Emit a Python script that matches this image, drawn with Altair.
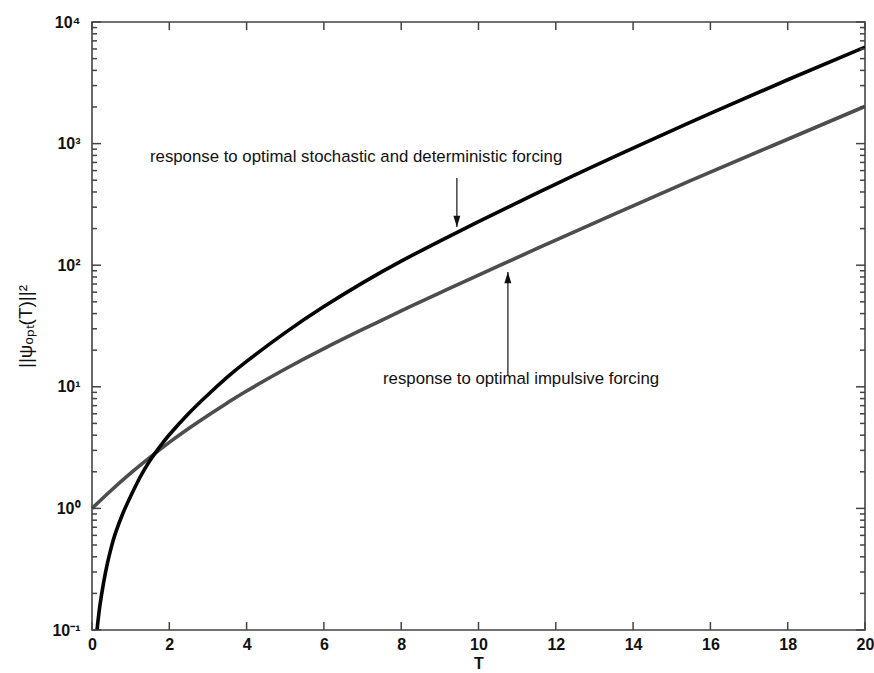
import altair as alt
import pandas as pd

# Optimal stochastic + deterministic forcing response
t_opt = [0.13, 0.2, 0.3, 0.4, 0.5, 0.6, 0.8, 1.0, 1.25, 1.5, 1.75, 2.0, 2.5, 3.0,
         3.5, 4.0, 5.0, 6.0, 7.0, 8.0, 9.0, 10.0, 12.0, 14.0, 16.0, 18.0, 20.0]
e_opt = [0.100, 0.155, 0.245, 0.355, 0.479, 0.617, 0.912, 1.26, 1.82, 2.48, 3.20, 4.03,
         6.03, 8.61, 12.0, 16.2, 27.9, 45.7, 71.6, 108, 158, 228, 465, 918, 1774, 3350, 6209]

# Optimal impulsive forcing response
t_imp = [0, 0.5, 1, 1.5, 2, 2.5, 3, 3.5, 4, 5, 6, 7, 8, 9, 10, 12, 14, 16, 18, 20]
e_imp = [1.00, 1.41, 1.95, 2.63, 3.49, 4.54, 5.82, 7.37, 9.23, 14.0, 20.6, 29.6, 42.1,
         59.2, 82.8, 161, 308, 583, 1086, 2023]

# Annotations: label anchor (T, value) and arrow (T, start, tip)
labels = ["response to optimal stochastic and deterministic forcing",
          "response to optimal impulsive forcing"]
label_t = [1.5, 7.53]
label_e = [776, 11.6]
arrow_t = [9.44, 10.76]
arrow_from = [521, 12.5]
arrow_to = [206, 88]

x_ticks = [0, 2, 4, 6, 8, 10, 12, 14, 16, 18, 20]
y_major = [0.1, 1, 10, 100, 1000, 10000]
y_minor = [m * d for d in [0.1, 1, 10, 100, 1000] for m in range(2, 10)]

W, H = 773, 608
FONT = "Liberation Sans"
FRAME = "#444444"

x_scale = alt.Scale(domain=[0, 20], nice=False, zero=False)
y_scale = alt.Scale(type="log", domain=[0.1, 10000], nice=False)

sup_expr = ("datum.value < 0.5 ? '10⁻¹' : datum.value < 5 ? '10⁰' : "
            "datum.value < 50 ? '10¹' : datum.value < 500 ? '10²' : "
            "datum.value < 5000 ? '10³' : '10⁴'")

x_axis = alt.Axis(values=x_ticks, format="d", title="T", ticks=False,
                  domain=False, grid=False, labelPadding=6, labelFontSize=16,
                  labelFlush=False, labelOverlap=False,
                  labelFontWeight="bold", labelFont=FONT, labelColor="#111",
                  titleFont=FONT, titleFontSize=16, titleFontWeight="bold",
                  titlePadding=3, titleColor="#111")
y_axis = alt.Axis(values=y_major, labelExpr=sup_expr, ticks=False, domain=False,
                  grid=False, labelPadding=12, labelFontSize=16,
                  labelFontWeight="bold", labelFont=FONT, labelColor="#111",
                  title="||ψₒₚₜ(T)||²", titleFont=FONT, titleFontSize=19,
                  titleFontWeight="normal", titleColor="#111", titleAngle=270,
                  titleX=-67, titleY=304, titleAlign="center",
                  titleBaseline="middle")


def xq(field="T"):
    return alt.X(f"{field}:Q", scale=x_scale, axis=x_axis)


def yq(field="E"):
    return alt.Y(f"{field}:Q", scale=y_scale, axis=y_axis)


opt_df = pd.DataFrame({"T": t_opt, "E": e_opt})
imp_df = pd.DataFrame({"T": t_imp, "E": e_imp})

imp_line = alt.Chart(imp_df).mark_line(
    color="#4d4d4d", strokeWidth=3.6, interpolate="natural"
).encode(x=xq(), y=yq())
opt_line = alt.Chart(opt_df).mark_line(
    color="#050505", strokeWidth=3.6, interpolate="natural", clip=True
).encode(x=xq(), y=yq())

# Inward tick marks on all four sides
ymaj_df = pd.DataFrame({"E": y_major})
ymin_df = pd.DataFrame({"E": y_minor})
xt_df = pd.DataFrame({"T": x_ticks})
tick_style = dict(color=FRAME, strokeWidth=1.5)
ticks = [
    alt.Chart(ymaj_df).mark_rule(**tick_style).encode(y=yq(), x=alt.value(0), x2=alt.value(9)),
    alt.Chart(ymaj_df).mark_rule(**tick_style).encode(y=yq(), x=alt.value(W - 9), x2=alt.value(W)),
    alt.Chart(ymin_df).mark_rule(**tick_style).encode(y=yq(), x=alt.value(0), x2=alt.value(5)),
    alt.Chart(ymin_df).mark_rule(**tick_style).encode(y=yq(), x=alt.value(W - 5), x2=alt.value(W)),
    alt.Chart(xt_df).mark_rule(**tick_style).encode(x=xq(), y=alt.value(H - 8), y2=alt.value(H)),
    alt.Chart(xt_df).mark_rule(**tick_style).encode(x=xq(), y=alt.value(0), y2=alt.value(8)),
]

lab_df = pd.DataFrame({"T": label_t, "E": label_e, "text": labels})
texts = alt.Chart(lab_df).mark_text(
    align="left", baseline="middle", font=FONT, fontSize=16.8, color="#111"
).encode(x=xq(), y=yq(), text="text:N")

arr_df = pd.DataFrame({"T": arrow_t, "E": arrow_from, "E2": arrow_to,
                       "dir": ["down", "up"]})
shafts = alt.Chart(arr_df).mark_rule(color="#444", strokeWidth=1.5).encode(
    x=xq(), y=yq(), y2="E2:Q")
head_down = alt.Chart(arr_df[arr_df.dir == "down"]).mark_point(
    shape="M0,0L-0.5,-1.6L0.5,-1.6Z", filled=True, size=196, color="#111", opacity=1
).encode(x=xq(), y=yq("E2"))
head_up = alt.Chart(arr_df[arr_df.dir == "up"]).mark_point(
    shape="M0,0L-0.5,1.6L0.5,1.6Z", filled=True, size=196, color="#111", opacity=1
).encode(x=xq(), y=yq("E2"))

chart = alt.layer(imp_line, opt_line, *ticks, shafts, head_down, head_up, texts).properties(
    width=W, height=H,
    background="white",
    autosize=alt.AutoSizeParams(type="none"),
    padding={"left": 92, "top": 22, "right": 9, "bottom": 43},
).configure_view(stroke=FRAME, strokeWidth=1.6)

chart.save("out.html", embed_options={"renderer": "svg", "actions": False})
